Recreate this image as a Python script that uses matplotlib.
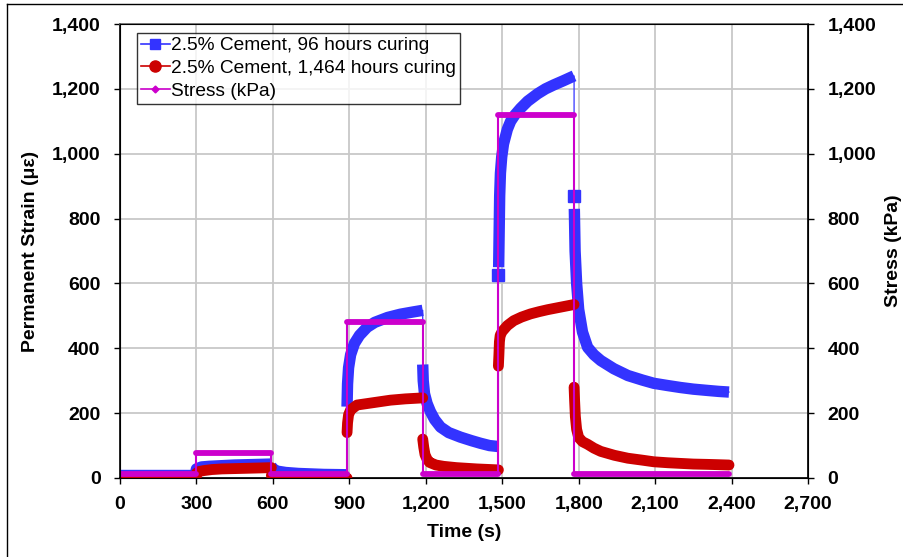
import matplotlib.pyplot as plt
from matplotlib.lines import Line2D
import numpy as np

plt.rcParams['font.family'] = ['Liberation Sans', 'DejaVu Sans']

# 2.5% cement, 96 hours curing -- one list per hold period
blue_t = [
	[0, 100, 200, 297],
	[297, 300, 320, 350, 400, 450, 500, 550, 594],
	[594, 610, 650, 700, 800, 891],
	[891, 893, 897, 905, 920, 940, 970, 1000, 1050, 1100, 1150, 1188],
	[1188, 1190, 1195, 1205, 1218, 1235, 1258, 1290, 1336, 1380, 1415, 1450, 1485],
	[1485],
	[1486, 1488, 1490, 1493, 1498, 1505, 1520, 1533, 1550, 1572, 1600, 1639, 1670, 1702, 1740, 1782],
	[1782],
	[1783, 1786, 1792, 1800, 1815, 1835, 1860, 1887, 1938, 1993, 2050, 2095, 2150, 2200, 2250, 2306, 2350, 2390],
]
blue_v = [
	[10, 10, 10, 10],
	[15, 28, 34, 36, 38, 40, 41, 42, 43],
	[35, 22, 17, 14, 11, 10],
	[220, 290, 340, 380, 415, 440, 465, 480, 495, 505, 512, 517],
	[350, 300, 260, 230, 205, 180, 157, 140, 126, 115, 107, 100, 97],
	[625],
	[650, 760, 870, 940, 990, 1030, 1075, 1100, 1120, 1140, 1162, 1185, 1200, 1212, 1225, 1240],
	[870],
	[830, 700, 600, 520, 450, 403, 380, 362, 337, 316, 302, 292, 285, 279, 274, 270, 267, 265],
]

# 2.5% cement, 1,464 hours curing
red_t = [
	[0, 100, 200, 297],
	[297, 300, 310, 330, 360, 400, 450, 500, 550, 594],
	[594, 600, 650, 700, 750, 800, 850, 891],
	[891, 893, 897, 905, 930, 1000, 1061, 1120, 1188],
	[1188, 1192, 1197, 1205, 1215, 1240, 1270, 1320, 1400, 1485],
	[1485, 1487, 1489, 1492, 1500, 1520, 1545, 1575, 1611, 1645, 1678, 1730, 1782],
	[1782, 1784, 1787, 1792, 1800, 1815, 1835, 1860, 1887, 1940, 1993, 2050, 2095, 2150, 2200, 2250, 2306, 2350, 2390],
]
red_v = [
	[0, 0, 0, 0],
	[5, 15, 20, 23, 26, 28, 29, 30, 31, 32],
	[8, 4, 2, 1, 0, 0, 0, 0],
	[140, 170, 195, 210, 225, 233, 240, 244, 247],
	[120, 95, 72, 58, 48, 40, 36, 32, 28, 25],
	[345, 380, 420, 440, 452, 470, 485, 496, 506, 513, 519, 527, 535],
	[280, 240, 190, 150, 125, 112, 104, 92, 82, 70, 61, 55, 50, 47, 45, 43, 42, 41, 40],
]

# applied stress (kPa): step times and level held between them
stress_t = [0, 297, 594, 891, 1188, 1485, 1782, 2390]
stress_v = [11, 77, 11, 480, 11, 1120, 11]

BLUE = '#3333ff'
RED = '#cc0000'
MAG = '#cc00cc'


def plot_series(ax, t_list, v_list, color, marker, cap, width):
	all_t = np.concatenate([np.array(t, float) for t in t_list])
	all_v = np.concatenate([np.array(v, float) for v in v_list])
	ax.plot(all_t, all_v, color=color, lw=0.9, zorder=3)
	for t, v in zip(t_list, v_list):
		if len(t) == 1:
			ax.plot(t, v, linestyle='none', marker=marker, color=color, markersize=width, zorder=4)
		else:
			ax.plot(t, v, color=color, lw=width, solid_capstyle=cap, solid_joinstyle='round', zorder=4)


fig = plt.figure(figsize=(9.04, 5.57), dpi=100)
ax = fig.add_axes([120/904, 1-478/557, 688/904, 454/557])

plot_series(ax, blue_t, blue_v, BLUE, 's', 'butt', 8.2)
plot_series(ax, red_t, red_v, RED, 'o', 'round', 7.8)

# stress: thin step line plus thick bands on the holds
st = np.repeat(stress_t, 2)[1:-1]
sv = np.repeat(stress_v, 2)
ax.plot(st, sv, color=MAG, lw=1.5, zorder=5)
for i in range(len(stress_v)):
	ax.plot(stress_t[i:i+2], [stress_v[i]]*2, color=MAG, lw=4.2, solid_capstyle='round', zorder=5)

ax.set_xlim(0, 2700)
ax.set_ylim(0, 1400)
ax.set_xticks(np.arange(0, 2701, 300))
ax.set_yticks(np.arange(0, 1401, 200))
ax.xaxis.set_major_formatter(plt.FuncFormatter(lambda x, p: '{:,.0f}'.format(x)))
ax.yaxis.set_major_formatter(plt.FuncFormatter(lambda x, p: '{:,.0f}'.format(x)))
ax.grid(True, color='#c8c8c8', lw=1.3)
ax.set_axisbelow(True)
ax.tick_params(labelsize=14, direction='out', length=4, width=1)
ax.tick_params(axis='x', pad=9)
ax.tick_params(axis='y', pad=10)
for lab in ax.get_xticklabels() + ax.get_yticklabels():
	lab.set_fontweight('bold')
for s in ax.spines.values():
	s.set_linewidth(1.2)
ax.spines['top'].set_color('#666666')
ax.set_xlabel('Time (s)', fontsize=14, fontweight='bold', labelpad=8)
ax.set_ylabel('Permanent Strain (\u03bc\u03b5)', fontsize=14, fontweight='bold', labelpad=9)

ax2 = ax.twinx()
ax2.set_ylim(0, 1400)
ax2.set_yticks(np.arange(0, 1401, 200))
ax2.yaxis.set_major_formatter(plt.FuncFormatter(lambda x, p: '{:,.0f}'.format(x)))
ax2.tick_params(labelsize=14, direction='out', length=4, width=1, pad=10)
for lab in ax2.get_yticklabels():
	lab.set_fontweight('bold')
ax2.set_ylabel('Stress (kPa)', fontsize=14, fontweight='bold', labelpad=6)

handles = [
	Line2D([], [], color=BLUE, marker='s', markersize=7, lw=1.2),
	Line2D([], [], color=RED, marker='o', markersize=8, lw=1.2),
	Line2D([], [], color=MAG, marker='D', markersize=3.5, lw=1.2),
]
labels = ['2.5% Cement, 96 hours curing', '2.5% Cement, 1,464 hours curing', 'Stress (kPa)']
leg = ax.legend(handles, labels, loc='upper left', bbox_to_anchor=(0.0247, 0.98), fontsize=13.8,
	frameon=True, fancybox=False, edgecolor='black', borderpad=0.2, labelspacing=0.28,
	handlelength=1.5, handletextpad=0.1, borderaxespad=0)
leg.get_frame().set_linewidth(1.0)

# outer chart border
fig.add_artist(Line2D([7/904, 7/904], [0, 1-4/557], color='black', lw=1, transform=fig.transFigure))
fig.add_artist(Line2D([7/904, 1], [1-4/557, 1-4/557], color='black', lw=1, transform=fig.transFigure))

fig.savefig('out.png', dpi=100)
